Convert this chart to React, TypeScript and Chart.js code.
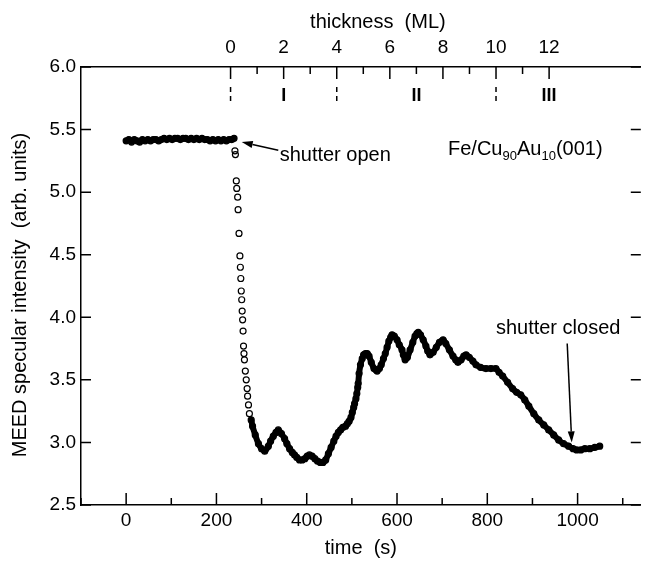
import React, { useEffect, useRef } from 'react';
import { Chart, registerables } from 'chart.js';

Chart.register(...registerables);

// ---- data ----
const TIME_S = [
  0, 6, 12, 18, 24, 30, 36, 42, 48, 54, 60, 66, 72, 78, 84, 90, 96, 102, 108, 114,
  120, 126, 132, 138, 144, 150, 156, 162, 168, 174, 180, 186, 192, 198, 204, 210, 216, 222, 228, 234,
  239, 241, 242, 244, 245, 247, 248, 250, 252, 253, 254, 255, 256, 257, 258, 259, 260, 261, 262, 264,
  266, 268, 269, 271, 273, 277, 280, 286, 293, 300, 307, 315, 320, 326, 332, 337, 344, 351, 356, 362,
  368, 373, 378, 384, 390, 396, 401, 406, 412, 418, 424, 430, 436, 442, 448, 454, 460, 465, 470, 475,
  480, 486, 490, 494, 498, 501, 504, 506, 509, 511, 513, 514, 516, 519, 523, 526, 530, 534, 538, 543,
  549, 556, 561, 565, 570, 574, 578, 582, 586, 589, 594, 600, 605, 611, 614, 618, 623, 629, 635, 640,
  644, 647, 652, 658, 664, 668, 673, 680, 687, 694, 702, 708, 716, 724, 730, 735, 742, 748, 753, 760,
  768, 775, 785, 797, 808, 819, 826, 834, 845, 856, 865, 874, 883, 892, 903, 914, 925, 936, 947, 958,
  969, 980, 990, 998, 1007, 1016, 1027, 1038, 1049,
];
const INTENSITY = [
  5.41, 5.42, 5.40, 5.42, 5.41, 5.40, 5.42, 5.41, 5.42, 5.41, 5.42, 5.42, 5.41, 5.42, 5.43, 5.42, 5.43, 5.42, 5.43, 5.43,
  5.42, 5.43, 5.43, 5.42, 5.43, 5.42, 5.43, 5.42, 5.43, 5.42, 5.42, 5.41, 5.42, 5.41, 5.42, 5.41, 5.42, 5.41, 5.42, 5.42,
  5.43, 5.33, 5.30, 5.09, 5.03, 4.96, 4.86, 4.67, 4.49, 4.40, 4.31, 4.21, 4.14, 4.05, 3.98, 3.89, 3.77, 3.71, 3.66, 3.57,
  3.50, 3.43, 3.37, 3.30, 3.23, 3.18, 3.13, 3.06, 2.99, 2.95, 2.93, 2.97, 3.01, 3.05, 3.08, 3.10, 3.07, 3.03, 2.99, 2.95,
  2.92, 2.90, 2.88, 2.86, 2.86, 2.87, 2.89, 2.90, 2.89, 2.87, 2.85, 2.84, 2.84, 2.86, 2.91, 2.96, 3.01, 3.05, 3.08, 3.10,
  3.12, 3.13, 3.15, 3.17, 3.20, 3.24, 3.28, 3.31, 3.35, 3.39, 3.44, 3.47, 3.55, 3.62, 3.67, 3.70, 3.71, 3.71, 3.69, 3.64,
  3.59, 3.57, 3.59, 3.62, 3.67, 3.71, 3.76, 3.81, 3.84, 3.86, 3.85, 3.82, 3.78, 3.74, 3.70, 3.66, 3.68, 3.74, 3.80, 3.85,
  3.87, 3.88, 3.86, 3.82, 3.77, 3.73, 3.70, 3.72, 3.76, 3.80, 3.82, 3.79, 3.74, 3.69, 3.66, 3.64, 3.66, 3.69, 3.70, 3.68,
  3.65, 3.62, 3.60, 3.59, 3.59, 3.59, 3.56, 3.53, 3.48, 3.43, 3.40, 3.38, 3.34, 3.29, 3.23, 3.18, 3.14, 3.10, 3.06, 3.02,
  2.99, 2.97, 2.95, 2.94, 2.94, 2.95, 2.95, 2.96, 2.97,
];

// axes
const X_MIN = -100;
const X_MAX = 1140;
const Y_MIN = 2.5;
const Y_MAX = 6.0;
const X_TICKS = [-100, 0, 100, 200, 300, 400, 500, 600, 700, 800, 900, 1000, 1100];
const X_LABELED = [0, 200, 400, 600, 800, 1000];
const Y_TICKS = [2.5, 3.0, 3.5, 4.0, 4.5, 5.0, 5.5, 6.0];

// top thickness axis
const ML_ZERO_TIME = 231.3; // s at 0 ML
const SEC_PER_ML = 58.8;
const ML_TICKS = [0, 1, 2, 3, 4, 5, 6, 7, 8, 9, 10, 11, 12];
const ML_LABELED = [0, 2, 4, 6, 8, 10, 12];
const PHASE_BOUNDS = [0, 4, 10];
const PHASE_NAMES = ['I', 'II', 'III'];
const PHASE_NAME_ML = [2, 7, 12];

// region where the points are drawn as separate circles
const SPARSE_FROM = 239;
const SPARSE_TO = 277;

const FONT = '"Liberation Sans", Arial, Helvetica, sans-serif';

function arrow(ctx: CanvasRenderingContext2D, x0: number, y0: number, x1: number, y1: number) {
  const ang = Math.atan2(y1 - y0, x1 - x0);
  const L = 11;
  const W = 3.5;
  const bx = x1 - L * Math.cos(ang);
  const by = y1 - L * Math.sin(ang);
  ctx.beginPath();
  ctx.moveTo(x0, y0);
  ctx.lineTo(bx, by);
  ctx.stroke();
  ctx.beginPath();
  ctx.moveTo(x1, y1);
  ctx.lineTo(bx + W * Math.sin(ang), by - W * Math.cos(ang));
  ctx.lineTo(bx - W * Math.sin(ang), by + W * Math.cos(ang));
  ctx.closePath();
  ctx.fill();
}

const decor = {
  id: 'decor',
  afterDraw(chart: any) {
    const { ctx, chartArea: a, scales } = chart;
    const sx = scales.x;
    const sy = scales.y;
    const st = scales.xTop;
    ctx.save();
    ctx.strokeStyle = '#000';
    ctx.fillStyle = '#000';
    ctx.lineWidth = 1.5;
    ctx.lineCap = 'butt';
    ctx.beginPath();
    Y_TICKS.forEach((v) => {
      const py = sy.getPixelForValue(v);
      ctx.moveTo(a.left, py);
      ctx.lineTo(a.left + 10, py);
      ctx.moveTo(a.right, py);
      ctx.lineTo(a.right - 10, py);
    });
    X_TICKS.forEach((v) => {
      const px = sx.getPixelForValue(v);
      const len = v % 200 === 0 ? 12 : 7;
      ctx.moveTo(px, a.bottom);
      ctx.lineTo(px, a.bottom - len);
    });
    ML_TICKS.forEach((m) => {
      const px = st.getPixelForValue(m);
      const len = m % 2 === 0 ? 12 : 7;
      ctx.moveTo(px, a.top);
      ctx.lineTo(px, a.top + len);
    });
    ctx.stroke();

    ctx.setLineDash([5, 4]);
    ctx.beginPath();
    PHASE_BOUNDS.forEach((m) => {
      const px = st.getPixelForValue(m);
      ctx.moveTo(px, a.top + 20);
      ctx.lineTo(px, a.top + 34);
    });
    ctx.stroke();
    ctx.setLineDash([]);

    ctx.font = `bold 18px ${FONT}`;
    ctx.textAlign = 'center';
    ctx.textBaseline = 'alphabetic';
    PHASE_NAMES.forEach((n, i) => {
      ctx.fillText(n, st.getPixelForValue(PHASE_NAME_ML[i]), a.top + 34);
    });

    // axis titles
    ctx.font = `20px ${FONT}`;
    ctx.fillText('time  (s)', (a.left + a.right) / 2, a.bottom + 49);
    ctx.fillText('thickness  (ML)', (a.left + a.right) / 2 + 17, a.top - 39);
    ctx.save();
    ctx.translate(25.5, (a.top + a.bottom) / 2 + 9);
    ctx.rotate(-Math.PI / 2);
    ctx.fillText('MEED specular intensity  (arb. units)', 0, 0);
    ctx.restore();

    // annotations
    ctx.textAlign = 'left';
    ctx.fillText('shutter open', sx.getPixelForValue(340), sy.getPixelForValue(5.245));
    arrow(ctx, sx.getPixelForValue(337), sy.getPixelForValue(5.335), sx.getPixelForValue(256), sy.getPixelForValue(5.40));
    ctx.fillText('shutter closed', sx.getPixelForValue(819), sy.getPixelForValue(3.867));
    arrow(ctx, sx.getPixelForValue(977), sy.getPixelForValue(3.79), sx.getPixelForValue(987), sy.getPixelForValue(3.0));

    // sample label with subscripts
    let px = sx.getPixelForValue(713);
    const base = sy.getPixelForValue(5.297);
    const parts: [string, boolean][] = [['Fe/Cu', false], ['90', true], ['Au', false], ['10', true], ['(001)', false]];
    parts.forEach(([t, sub]) => {
      ctx.font = sub ? `13px ${FONT}` : `20px ${FONT}`;
      ctx.fillText(t, px, sub ? base + 5 : base);
      px += ctx.measureText(t).width;
    });
    ctx.restore();
  },
};

export default function App() {
  const ref = useRef<HTMLCanvasElement | null>(null);
  useEffect(() => {
    document.body.style.margin = '0';
    if (!ref.current) return;
    const points = TIME_S.map((t, i) => ({ x: t, y: INTENSITY[i] }));
    const tickFont = { family: FONT, size: 19 };
    const chart = new Chart(ref.current, {
      type: 'line',
      data: {
        datasets: [
          {
            data: points,
            xAxisID: 'x',
            yAxisID: 'y',
            borderColor: '#000',
            borderWidth: 6,
            borderJoinStyle: 'round',
            borderCapStyle: 'round',
            tension: 0.4,
            cubicInterpolationMode: 'monotone',
            pointRadius: 3,
            pointBorderWidth: 1.2,
            pointBorderColor: '#000',
            pointBackgroundColor: 'rgba(255,255,255,0)',
            segment: {
              borderColor: (c: any) =>
                c.p0.parsed.x >= SPARSE_FROM && c.p1.parsed.x <= SPARSE_TO ? 'rgba(0,0,0,0)' : undefined,
            },
          } as any,
        ],
      },
      options: {
        animation: false,
        responsive: true,
        maintainAspectRatio: false,
        layout: { padding: 0 },
        plugins: { legend: { display: false }, tooltip: { enabled: false } },
        scales: {
          x: {
            type: 'linear',
            position: 'bottom',
            min: X_MIN,
            max: X_MAX,
            afterBuildTicks: (s: any) => {
              s.ticks = X_TICKS.map((value) => ({ value }));
            },
            afterFit: (s: any) => {
              s.height = 62;
            },
            ticks: {
              autoSkip: false,
              maxRotation: 0,
              padding: 4,
              color: '#000',
              font: tickFont,
              callback: (v: any) => (X_LABELED.includes(Number(v)) ? String(v) : ''),
            },
            grid: { drawOnChartArea: false, drawTicks: false },
            border: { display: true, color: '#000', width: 1.5 },
          },
          xTop: {
            type: 'linear',
            position: 'top',
            min: (X_MIN - ML_ZERO_TIME) / SEC_PER_ML,
            max: (X_MAX - ML_ZERO_TIME) / SEC_PER_ML,
            afterBuildTicks: (s: any) => {
              s.ticks = ML_TICKS.map((value) => ({ value }));
            },
            afterFit: (s: any) => {
              s.height = 67;
            },
            ticks: {
              autoSkip: false,
              maxRotation: 0,
              padding: 8,
              color: '#000',
              font: tickFont,
              callback: (v: any) => (ML_LABELED.includes(Number(v)) ? String(v) : ''),
            },
            grid: { drawOnChartArea: false, drawTicks: false },
            border: { display: true, color: '#000', width: 1.5 },
          },
          y: {
            type: 'linear',
            position: 'left',
            min: Y_MIN,
            max: Y_MAX,
            afterBuildTicks: (s: any) => {
              s.ticks = Y_TICKS.map((value) => ({ value }));
            },
            afterFit: (s: any) => {
              s.width = 81;
            },
            ticks: {
              padding: 5,
              color: '#000',
              font: tickFont,
              callback: (v: any) => Number(v).toFixed(1),
            },
            grid: { drawOnChartArea: false, drawTicks: false },
            border: { display: true, color: '#000', width: 1.5 },
          },
        },
      } as any,
      plugins: [decor],
    });
    return () => chart.destroy();
  }, []);
  return (
    <div style={{ position: 'relative', width: 646, height: 567 }}>
      <canvas ref={ref} />
    </div>
  );
}
